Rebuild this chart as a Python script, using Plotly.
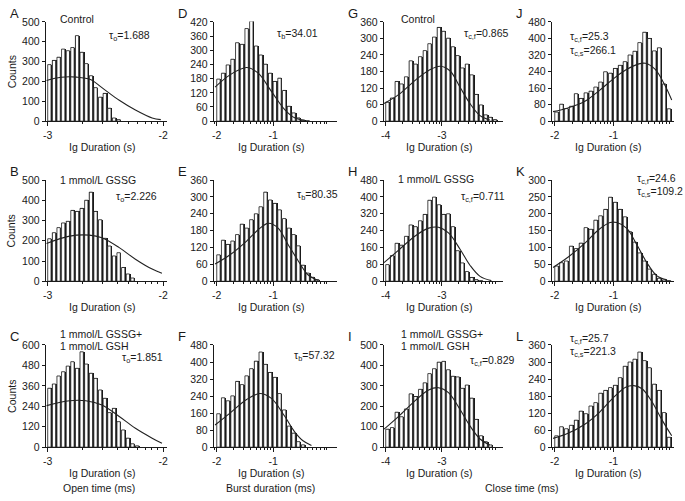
import math
import plotly.graph_objects as go

W, H = 685, 501

# ---------------- data ----------------
A_counts = [285, 306, 322, 363, 355, 371, 431, 347, 290, 229, 169, 121, 140, 65, 16, 8]
B_counts = [210, 240, 265, 288, 296, 350, 345, 360, 400, 440, 345, 304, 212, 174, 125, 141, 68, 36, 16]
C_counts = [346, 371, 418, 443, 476, 502, 463, 560, 488, 434, 404, 336, 287, 203, 228, 150, 101, 53, 20, 8]
D_counts = [178, 203, 238, 262, 332, 325, 392, 434, 318, 280, 241, 203, 168, 182, 130, 63, 35, 14, 4, 2]
E_counts = [94, 146, 131, 143, 166, 203, 189, 219, 240, 265, 317, 289, 277, 254, 223, 189, 166, 126, 57, 29, 14, 6]
F_counts = [157, 232, 218, 241, 309, 294, 335, 369, 404, 447, 389, 351, 328, 252, 175, 99, 66, 26, 11]
G_counts = [69, 84, 144, 135, 161, 219, 207, 234, 256, 281, 305, 340, 326, 301, 270, 238, 193, 207, 168, 97, 59, 23, 14, 6]
H_counts = [79, 122, 180, 171, 213, 267, 259, 287, 317, 384, 399, 363, 317, 320, 259, 145, 87, 46, 18, 8, 3]
I_counts = [88, 96, 171, 149, 187, 261, 248, 283, 315, 360, 384, 416, 420, 379, 347, 344, 288, 304, 240, 136, 56, 27, 11]
J_counts = [44, 82, 61, 72, 133, 110, 137, 145, 165, 189, 239, 232, 255, 270, 288, 320, 338, 380, 430, 400, 340, 355, 180, 60]
K_counts = [45, 55, 60, 104, 97, 113, 159, 154, 181, 194, 213, 249, 234, 213, 191, 147, 116, 84, 60, 36, 21, 9, 4, 2]
L_counts = [40, 72, 65, 77, 95, 127, 118, 145, 157, 190, 200, 210, 218, 245, 285, 300, 310, 335, 305, 280, 222, 200, 122, 35]

A_fit_x = [-3.01, -2.885, -2.75, -2.63, -2.53, -2.38, -2.24, -2.095, -2.02]
A_fit_y = [205, 221, 222, 210, 169, 105, 56, 16, 8]
B_fit_x = [-3.01, -2.81, -2.64, -2.53, -2.38, -2.24, -2.095, -2.01]
B_fit_y = [187, 223, 228, 215, 166, 109, 60, 40]
C_fit_x = [-3.01, -2.81, -2.67, -2.53, -2.38, -2.24, -2.095, -2.01]
C_fit_y = [244, 273, 273, 248, 180, 111, 53, 23]
D_fit_x = [-2.03, -1.765, -1.47, -1.265, -1.03, -0.794, -0.618, -0.44]
D_fit_y = [144, 196, 227, 203, 126, 49, 14, 4]
E_fit_x = [-2.03, -1.765, -1.47, -1.265, -1.088, -0.912, -0.735, -0.559, -0.382, -0.206]
E_fit_y = [61, 94, 143, 183, 206, 189, 131, 74, 23, 3]
F_fit_x = [-2.03, -1.765, -1.47, -1.235, -1.03, -0.794, -0.618, -0.47, -0.32]
F_fit_y = [104, 160, 224, 252, 229, 145, 72, 30, 8]
G_fit_x = [-4.03, -3.765, -3.47, -3.235, -3.03, -2.853, -2.676, -2.5, -2.32, -2.147]
G_fit_y = [64, 97, 149, 184, 199, 182, 123, 64, 20, 4]
H_fit_x = [-4.03, -3.765, -3.47, -3.235, -3.06, -2.882, -2.676, -2.5, -2.32, -2.118]
H_fit_y = [88, 149, 216, 252, 256, 229, 152, 76, 23, 3]
I_fit_x = [-4.03, -3.765, -3.47, -3.235, -3.06, -2.882, -2.676, -2.5, -2.32, -2.147]
I_fit_y = [88, 152, 229, 280, 291, 267, 184, 104, 40, 11]
J_fit_x = [-2.03, -1.775, -1.494, -1.242, -1.017, -0.792, -0.567, -0.455, -0.287, -0.118, -0.006]
J_fit_y = [46, 64, 95, 148, 201, 247, 277, 280, 250, 171, 102]
K_fit_x = [-2.03, -1.77, -1.486, -1.257, -1.057, -0.943, -0.771, -0.6, -0.429, -0.257, -0.086]
K_fit_y = [41, 72, 113, 152, 174, 174, 157, 108, 55, 16, 4]
L_fit_x = [-2.03, -1.775, -1.494, -1.242, -1.017, -0.792, -0.652, -0.511, -0.343, -0.174, -0.006]
L_fit_y = [31, 49, 80, 122, 171, 211, 217, 206, 160, 97, 40]

y_tick_vals = {
    "A": [0, 100, 200, 300, 400, 500], "B": [0, 100, 200, 300, 400, 500],
    "C": [0, 120, 240, 360, 480, 600],
    "D": [0, 60, 120, 180, 240, 300, 360, 420], "E": [0, 60, 120, 180, 240, 300, 360],
    "F": [0, 80, 160, 240, 320, 400, 480],
    "G": [0, 60, 120, 180, 240, 300, 360], "H": [0, 80, 160, 240, 320, 400, 480],
    "I": [0, 100, 200, 300, 400, 500],
    "J": [0, 80, 160, 240, 320, 400, 480], "K": [0, 50, 100, 150, 200, 250, 300],
    "L": [0, 60, 120, 180, 240, 300, 360],
}
x_tick_vals = {1: [-3, -2], 2: [-2, -1], 3: [-4, -3], 4: [-2, -1]}

tau_texts = {
    "A": ["τ<sub>o</sub>=1.688"], "B": ["τ<sub>o</sub>=2.226"], "C": ["τ<sub>o</sub>=1.851"],
    "D": ["τ<sub>b</sub>=34.01"], "E": ["τ<sub>b</sub>=80.35"], "F": ["τ<sub>b</sub>=57.32"],
    "G": ["τ<sub>c,f</sub>=0.865"], "H": ["τ<sub>c,f</sub>=0.711"], "I": ["τ<sub>c,f</sub>=0.829"],
    "J": ["τ<sub>c,f</sub>=25.3", "τ<sub>c,s</sub>=266.1"],
    "K": ["τ<sub>c,f</sub>=24.6", "τ<sub>c,s</sub>=109.2"],
    "L": ["τ<sub>c,f</sub>=25.7", "τ<sub>c,s</sub>=221.3"],
}
condition_texts = {
    "A": ["Control"], "G": ["Control"],
    "B": ["1 mmol/L GSSG"], "H": ["1 mmol/L GSSG"],
    "C": ["1 mmol/L GSSG+", "1 mmol/L GSH"], "I": ["1 mmol/L GSSG+", "1 mmol/L GSH"],
}
column_titles = ["Open time (ms)", "Burst duration (ms)", "Close time (ms)"]
x_title = "Ig Duration (s)"
y_title = "Counts"

counts = dict(A=A_counts, B=B_counts, C=C_counts, D=D_counts, E=E_counts, F=F_counts,
              G=G_counts, H=H_counts, I=I_counts, J=J_counts, K=K_counts, L=L_counts)
fits = dict(A=(A_fit_x, A_fit_y), B=(B_fit_x, B_fit_y), C=(C_fit_x, C_fit_y),
            D=(D_fit_x, D_fit_y), E=(E_fit_x, E_fit_y), F=(F_fit_x, F_fit_y),
            G=(G_fit_x, G_fit_y), H=(H_fit_x, H_fit_y), I=(I_fit_x, I_fit_y),
            J=(J_fit_x, J_fit_y), K=(K_fit_x, K_fit_y), L=(L_fit_x, L_fit_y))

# ---------------- layout geometry ----------------
TXT_FONT = "Liberation Sans Narrow, Liberation Sans, Arial, sans-serif"
TICK_FONT = "Liberation Sans, Arial, sans-serif"
INK = "#1a1a1a"
col_px = {1: (43, 165), 2: (212, 336), 3: (383, 503), 4: (552, 675)}
col_range = {1: (-3.017, -1.966), 2: (-2.053, 0.134), 3: (-4.035, -1.91), 4: (-2.051, 0.034)}
col_start = {1: -3.0, 2: -2.0, 3: -4.0, 4: -2.0}
col_bin = {1: 0.04, 2: 1 / 12, 3: 1 / 12, 4: 1 / 12}
row_px = {1: (16, 118), 2: (178, 282), 3: (347, 452)}
letters = {(1, 1): "A", (2, 1): "B", (3, 1): "C", (1, 2): "D", (2, 2): "E", (3, 2): "F",
           (1, 3): "G", (2, 3): "H", (3, 3): "I", (1, 4): "J", (2, 4): "K", (3, 4): "L"}
# (x anchor-left pixel, y pixel of first line) of the tau labels
tau_pos = {"A": (105, 31), "B": (112, 196), "C": (118, 361),
           "D": (274, 29), "E": (294, 194), "F": (291, 359),
           "G": (462, 29), "H": (459, 196), "I": (468, 364),
           "J": (568, 32), "K": (636, 177), "L": (568, 341)}
cond_pos = {"A": (55, 13), "G": (398, 13), "B": (55, 178), "H": (395, 177),
            "C": (55, 336), "I": (398, 336)}


def px(x):
    return x / W


def py(y):
    return 1 - y / H


def minor_vals(lo, hi):
    vals = []
    d = int(math.floor(lo))
    while d < hi:
        for k in range(2, 10):
            v = d + math.log10(k)
            if lo < v < hi:
                vals.append(v)
        d += 1
    return vals


fig = go.Figure()
annotations = []


def add_text(text, x, y, size=10.5, anchor="left", angle=0, family=TXT_FONT):
    annotations.append(dict(text=text, x=px(x), y=py(y), xref="paper", yref="paper",
                            xanchor=anchor, yanchor="middle", showarrow=False, textangle=angle,
                            font=dict(family=family, size=size, color=INK)))


idx = 0
for (row, col), letter in sorted(letters.items(), key=lambda t: (t[0][1], t[0][0])):
    idx += 1
    xa = "x" if idx == 1 else f"x{idx}"
    ya = "y" if idx == 1 else f"y{idx}"
    c = counts[letter]
    bw = col_bin[col]
    lefts = [col_start[col] + i * bw for i in range(len(c))]
    # dark edge of each bar
    fig.add_trace(go.Bar(x=[l + bw / 2 for l in lefts], y=c, width=[bw * 0.97] * len(c),
                         marker=dict(color=INK, line=dict(width=0)),
                         xaxis=xa, yaxis=ya, showlegend=False, hoverinfo="skip"))
    # white open part
    fig.add_trace(go.Bar(x=[l + bw * 0.36 for l in lefts], y=c, width=[bw * 0.72] * len(c),
                         marker=dict(color="white", line=dict(color=INK, width=0.8)),
                         xaxis=xa, yaxis=ya, showlegend=False, hoverinfo="skip"))
    fx, fy = fits[letter]
    fig.add_trace(go.Scatter(x=fx, y=fy, mode="lines", line=dict(color="#222", width=1.1, shape="spline"),
                             xaxis=xa, yaxis=ya, showlegend=False, hoverinfo="skip"))

    x0p, x1p = col_px[col]
    y0p, y1p = row_px[row]
    yt = y_tick_vals[letter]
    xr = col_range[col]
    axis_common = dict(showline=True, linecolor=INK, linewidth=1, ticks="outside", tickcolor=INK,
                       tickwidth=1, showgrid=False, zeroline=False,
                       tickfont=dict(family=TICK_FONT, size=10.5, color=INK))
    fig.layout[("xaxis" if idx == 1 else f"xaxis{idx}")] = dict(
        domain=[px(x0p), px(x1p)], range=list(xr), anchor=ya,
        tickmode="array", tickvals=x_tick_vals[col], ticktext=[str(v) for v in x_tick_vals[col]],
        ticklen=4,
        minor=dict(tickmode="array", tickvals=minor_vals(xr[0], xr[1]), ticks="outside", ticklen=2,
                   tickcolor=INK, tickwidth=1),
        **axis_common)
    fig.layout[("yaxis" if idx == 1 else f"yaxis{idx}")] = dict(
        domain=[py(y1p), py(y0p)], range=[0, yt[-1] * 1.003], anchor=xa,
        tickmode="array", tickvals=yt, ticklen=3, **axis_common)

    # panel letter
    add_text(letter, x0p - 38, y0p - 8, size=13, family=TICK_FONT)
    # x axis title
    add_text(x_title, (x0p + x1p) / 2 - 4, y1p + 26, size=10.5, anchor="center")
    if col == 1:
        add_text(y_title, 9, (y0p + y1p) / 2, size=10.5, anchor="center", angle=-90)
    # tau texts
    tx, ty = tau_pos[letter]
    for k, t in enumerate(tau_texts[letter]):
        add_text(t, tx, ty + 14 * k, size=10.5)
    # condition texts
    if letter in condition_texts:
        cx, cy = cond_pos[letter]
        for k, t in enumerate(condition_texts[letter]):
            add_text(t, cx, cy + 12.5 * k, size=10.5)

for t, cxp in zip(column_titles, [97, 269, 522]):
    add_text(t, cxp, 494, size=10.5, anchor="center")

fig.update_layout(width=W, height=H, margin=dict(l=0, r=0, t=0, b=0),
                  paper_bgcolor="white", plot_bgcolor="white", barmode="overlay", bargap=0,
                  annotations=annotations, hovermode=False)
fig.write_html("out.html", config={"displayModeBar": False, "staticPlot": True},
               post_script="document.body.style.margin='0px';document.body.style.overflow='hidden';")
